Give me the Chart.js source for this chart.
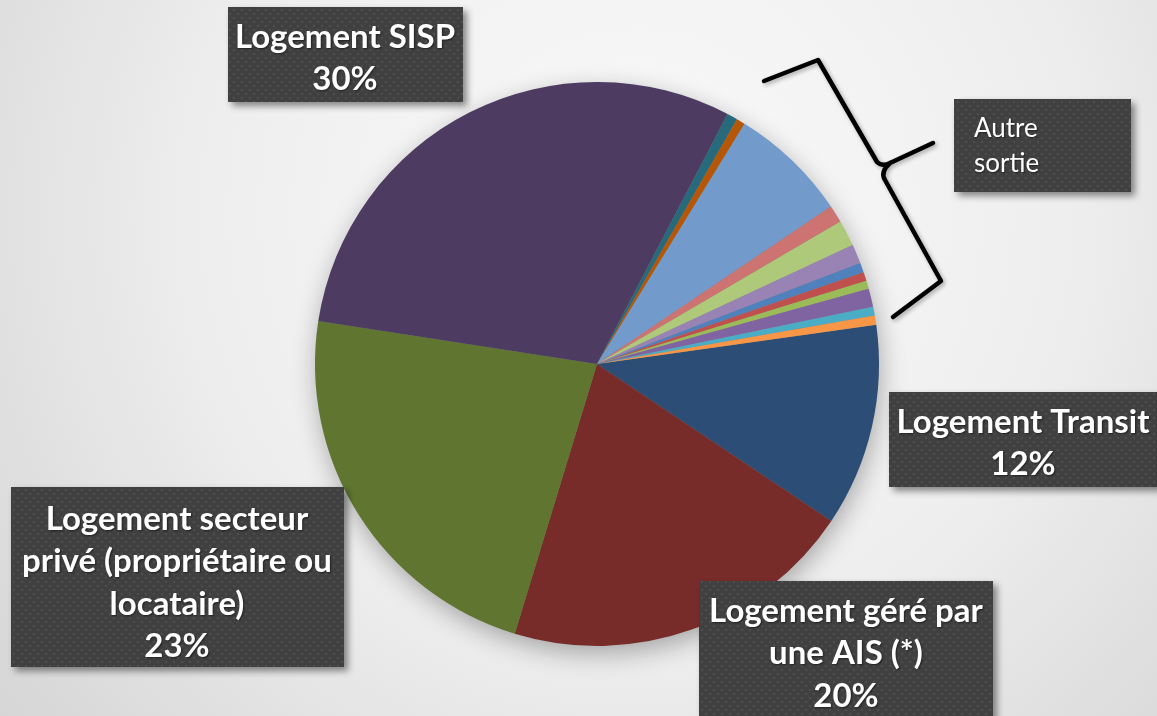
<!DOCTYPE html>
<html>
<head>
<meta charset="utf-8">
<script src="https://cdn.jsdelivr.net/npm/chart.js@4"></script>
<style>
  html, body { margin: 0; padding: 0; background: #e6e6e6; }
  canvas { display: block; }
</style>
</head>
<body>
<canvas id="pieChart" width="1157" height="716"></canvas>
<script>
// catégories (sens horaire à partir de "Logement Transit")
const categories = [
    'Logement Transit',
    'Logement géré par une AIS (*)',
    'Logement secteur privé (propriétaire ou locataire)',
    'Logement SISP',
    'Autre sortie 1', 'Autre sortie 2', 'Autre sortie 3', 'Autre sortie 4',
    'Autre sortie 5', 'Autre sortie 6', 'Autre sortie 7', 'Autre sortie 8',
    'Autre sortie 9', 'Autre sortie 10', 'Autre sortie 11', 'Autre sortie 12'
];
// parts (%)
const shares = [11.6, 20.3, 22.7, 30.2, 0.6, 0.5, 6.8, 1.0, 1.5, 1.1, 0.55, 0.5, 0.47, 1.05, 0.5, 0.53];
const sliceColors = [
    '#2C4D75', '#772C2A', '#5F7530', '#4D3B62',
    '#276A7C', '#B65708', '#729ACA', '#CD7371', '#AFC97A', '#9983B5',
    '#4F81BD', '#C0504D', '#9BBB59', '#8064A2', '#4BACC6', '#F79646'
];
// libellés découpés en lignes pour les étiquettes
const labelLines = [
    ['Logement Transit'],
    ['Logement géré par', 'une AIS (*)'],
    ['Logement secteur', 'privé (propriétaire ou', 'locataire)'],
    ['Logement SISP']
];
const otherLabel = ['Autre', 'sortie'];

// motif à points des étiquettes
function dotPattern(ctx) {
    const c = document.createElement('canvas');
    c.width = 8; c.height = 8;
    const p = c.getContext('2d');
    p.fillStyle = '#404040';
    p.fillRect(0, 0, 8, 8);
    p.fillStyle = 'rgba(255,255,255,0.07)';
    p.beginPath(); p.arc(2, 2, 1.3, 0, Math.PI * 2); p.fill();
    p.beginPath(); p.arc(6, 6, 1.3, 0, Math.PI * 2); p.fill();
    return ctx.createPattern(c, 'repeat');
}

const decor = {
    id: 'decor',
    beforeDraw(chart) {
        const ctx = chart.ctx;
        const w = chart.width, h = chart.height;
        const g = ctx.createRadialGradient(w * 0.55, h * 0.3, 0, w * 0.55, h * 0.3, w * 0.75);
        g.addColorStop(0, '#fafafa');
        g.addColorStop(0.5, '#eeeeee');
        g.addColorStop(1, '#d2d2d2');
        ctx.save();
        ctx.fillStyle = g;
        ctx.fillRect(0, 0, w, h);
        ctx.restore();
    },
    beforeDatasetsDraw(chart) {
        // ombre du camembert
        const arc = chart.getDatasetMeta(0).data[0];
        const ctx = chart.ctx;
        ctx.save();
        ctx.shadowColor = 'rgba(0,0,0,0.32)';
        ctx.shadowBlur = 26;
        ctx.shadowOffsetX = 2;
        ctx.shadowOffsetY = 8;
        ctx.fillStyle = '#888';
        ctx.beginPath();
        ctx.arc(arc.x, arc.y, arc.outerRadius - 1, 0, Math.PI * 2);
        ctx.fill();
        ctx.restore();
    },
    afterDatasetsDraw(chart, args, opts) {
        const ctx = chart.ctx;
        const data = chart.data.datasets[0].data;
        const total = data.reduce((a, b) => a + b, 0);
        const pattern = dotPattern(ctx);

        // accolade "Autre sortie"
        ctx.save();
        ctx.strokeStyle = '#000';
        ctx.lineWidth = 4.5;
        ctx.lineJoin = 'round';
        ctx.lineCap = 'round';
        ctx.shadowColor = 'rgba(0,0,0,0.3)';
        ctx.shadowBlur = 4;
        ctx.shadowOffsetX = 2;
        ctx.shadowOffsetY = 2;
        ctx.beginPath();
        ctx.moveTo(764, 81);
        ctx.lineTo(818, 60);
        ctx.lineTo(877, 162);
        ctx.quadraticCurveTo(882, 167, 890, 163);
        ctx.lineTo(933, 143);
        ctx.moveTo(890, 163);
        ctx.quadraticCurveTo(880, 172, 885, 180);
        ctx.lineTo(941, 281);
        ctx.lineTo(893, 317);
        ctx.stroke();
        ctx.restore();

        // étiquettes
        opts.boxes.forEach(b => {
            ctx.save();
            ctx.shadowColor = 'rgba(0,0,0,0.45)';
            ctx.shadowBlur = 7;
            ctx.shadowOffsetX = 4;
            ctx.shadowOffsetY = 4;
            ctx.fillStyle = pattern;
            ctx.fillRect(b.x, b.y, b.w, b.h);
            ctx.restore();

            ctx.save();
            ctx.fillStyle = '#ffffff';
            ctx.shadowColor = 'rgba(0,0,0,0.5)';
            ctx.shadowBlur = 2;
            ctx.shadowOffsetX = 1;
            ctx.shadowOffsetY = 1;
            ctx.textBaseline = 'middle';
            if (b.index >= 0) {
                const lines = labelLines[b.index].concat([Math.round(data[b.index] / total * 100) + '%']);
                ctx.font = 'bold 33px Lato';
                ctx.textAlign = 'center';
                lines.forEach((t, k) => ctx.fillText(t, b.cx, b.ty + k * 42.5));
            } else {
                ctx.font = '26px Lato';
                ctx.textAlign = 'left';
                otherLabel.forEach((t, k) => ctx.fillText(t, b.cx, b.ty + k * 35));
            }
            ctx.restore();
        });
    }
};

new Chart(document.getElementById('pieChart'), {
    type: 'pie',
    data: {
        labels: categories,
        datasets: [{
            data: shares,
            backgroundColor: sliceColors,
            borderWidth: 0
        }]
    },
    options: {
        responsive: false,
        animation: false,
        rotation: 82,
        layout: { padding: { top: 82, bottom: 70, left: 300, right: 263 } },
        plugins: {
            legend: { display: false },
            tooltip: { enabled: false },
            decor: {
                boxes: [
                    { index: 3, x: 228, y: 7, w: 235, h: 95, cx: 345, ty: 37 },
                    { index: 0, x: 889, y: 392, w: 272, h: 95, cx: 1023, ty: 422 },
                    { index: 1, x: 699, y: 581, w: 294, h: 140, cx: 846, ty: 611 },
                    { index: 2, x: 11, y: 487, w: 333, h: 180, cx: 177, ty: 519 },
                    { index: -1, x: 954, y: 99, w: 177, h: 93, cx: 974, ty: 129 }
                ]
            }
        }
    },
    plugins: [decor]
});
</script>
</body>
</html>
